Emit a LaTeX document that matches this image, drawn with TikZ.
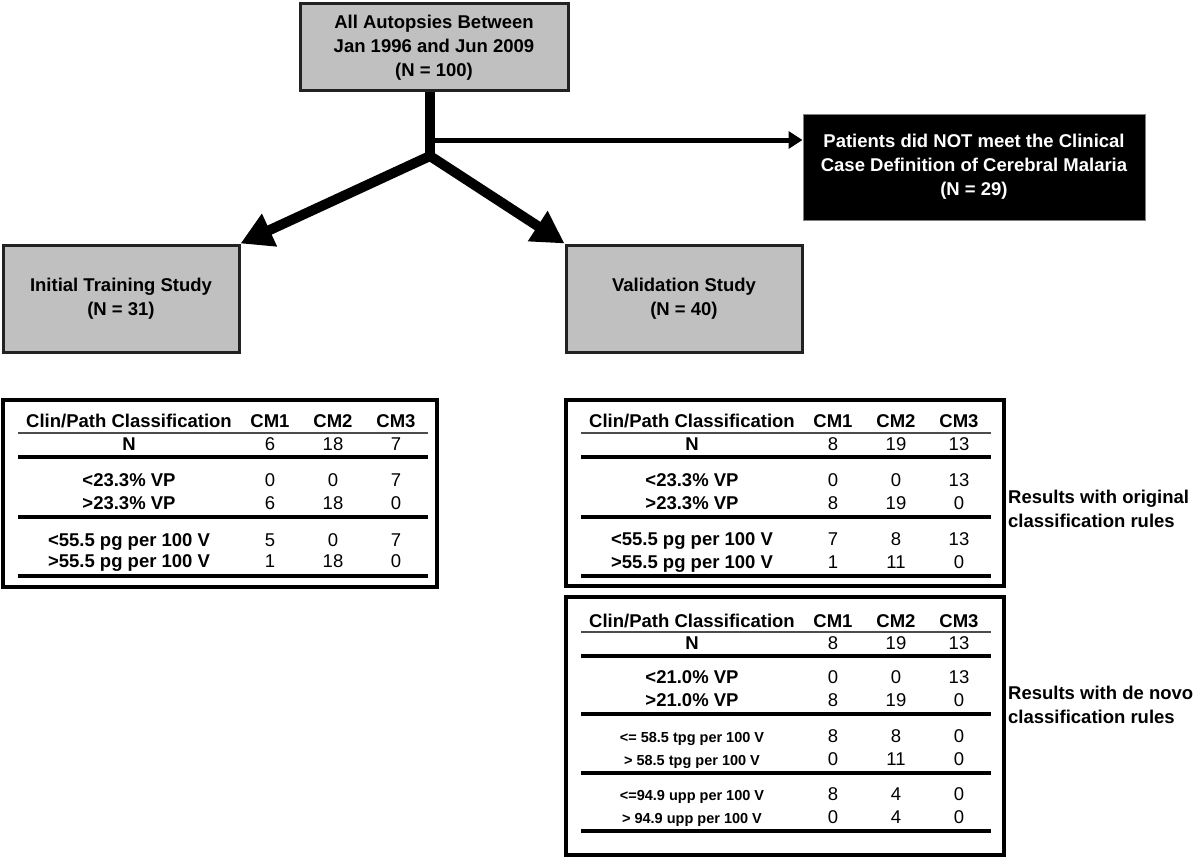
\documentclass[tikz,border=0pt]{standalone}
\usepackage{fontspec}
\setmainfont{Liberation Sans}
\usetikzlibrary{arrows.meta}
\definecolor{boxgray}{HTML}{C0C0C0}
\definecolor{edgegray}{HTML}{222222}
\newcommand\bigfont{\fontsize{18.5}{24}\selectfont}
\newcommand\smallfont{\fontsize{14.5}{18}\selectfont}
% \tabrow{name}{x0}{y}{label}{a}{b}{c}{font for label}{font for numbers}
\newcommand\tabrow[9]{%
  \node[cell,font=#8] (#1-l) at ({#2+127},#3) {#4};
  \node[cell,font=#9] (#1-a) at ({#2+268},#3) {#5};
  \node[cell,font=#9] (#1-b) at ({#2+331},#3) {#6};
  \node[cell,font=#9] (#1-c) at ({#2+394},#3) {#7};}
\newcommand\smallrow[6]{%
  \node[smallcell] (#1-l) at ({#2+127},#3) {#4};
  \node[cell,font=\bigfont] (#1-a) at ({#2+268},#3) {#5};
  \node[cell,font=\bigfont] (#1-b) at ({#2+331},#3) {#6};}
\begin{document}
\begin{tikzpicture}[x=1pt,y=-1pt,
  flowbox/.style={draw=edgegray, line width=3pt, fill=boxgray, inner sep=0pt,
    font=\bigfont\bfseries, align=center},
  darkbox/.style={draw=gray, line width=1pt, fill=black, text=white, inner sep=0pt,
    font=\bigfont\bfseries, align=center},
  tablebox/.style={draw=black, line width=4pt, fill=none, inner sep=0pt},
  cell/.style={inner sep=0pt, text height=13.2pt, text depth=0pt, anchor=center},
  smallcell/.style={inner sep=0pt, text height=10.4pt, text depth=0pt, anchor=center,
    font=\smallfont\bfseries},
  thinrule/.style={draw=black!70, line width=1.5pt},
  thickrule/.style={draw=black, line width=3.5pt},
  sidelabel/.style={inner sep=0pt, anchor=west, align=left, font=\bigfont\bfseries},
  fatarrow/.style={line width=10pt, line join=miter,
    {Triangle[length=32pt,width=34pt]}-{Triangle[length=32pt,width=34pt]}},
  thinarrow/.style={line width=5pt, -{Triangle[length=14pt,width=17pt]}}
]
\useasboundingbox (0,0) rectangle (1200,859);

% flow boxes
\node[flowbox, minimum width=268pt, minimum height=87pt] (top) at (434,47.5)
  {All Autopsies Between\\Jan 1996 and Jun 2009\\(N = 100)};
\node[darkbox, minimum width=342pt, minimum height=106pt] (pat) at (974,167)
  {Patients did NOT meet the Clinical\\Case Definition of Cerebral Malaria\\(N = 29)};
\node[flowbox, minimum width=236pt, minimum height=107pt] (init) at (121,298.5)
  {Initial Training Study\\(N = 31)};
\node[flowbox, minimum width=236pt, minimum height=107pt] (val) at (684,298.5)
  {Validation Study\\(N = 40)};

% connectors
\coordinate (stemjoin) at (430,156);
\coordinate (branch) at (430,140);
\draw[line width=10pt] (top.south -| stemjoin) -- (stemjoin);
\draw[thinarrow] (branch) -- (branch -| pat.west);
\draw[fatarrow] (init.north east) -- (stemjoin) -- (val.north west);

% table 1
\node[tablebox, minimum width=434pt, minimum height=187pt] (t1) at (220,493.5) {};
\tabrow{t1h}{2}{421}{Clin/Path Classification}{CM1}{CM2}{CM3}{\bigfont\bfseries}{\bigfont\bfseries}
\draw[thinrule] (18,433) -- (428,433);
\tabrow{t1n}{2}{444}{N}{6}{18}{7}{\bigfont\bfseries}{\bigfont}
\draw[thickrule] (18,457) -- (428,457);
\tabrow{t1a}{2}{480}{<23.3\% VP}{0}{0}{7}{\bigfont\bfseries}{\bigfont}
\tabrow{t1b}{2}{503}{>23.3\% VP}{6}{18}{0}{\bigfont\bfseries}{\bigfont}
\draw[thickrule] (18,517) -- (428,517);
\tabrow{t1c}{2}{540}{<55.5 pg per 100 V}{5}{0}{7}{\bigfont\bfseries}{\bigfont}
\tabrow{t1d}{2}{561}{>55.5 pg per 100 V}{1}{18}{0}{\bigfont\bfseries}{\bigfont}
\draw[thickrule] (18,576) -- (428,576);

% table 2
\node[tablebox, minimum width=438pt, minimum height=186pt] (t2) at (785,493) {};
\tabrow{t2h}{565}{421}{Clin/Path Classification}{CM1}{CM2}{CM3}{\bigfont\bfseries}{\bigfont\bfseries}
\draw[thinrule] (581,433) -- (991,433);
\tabrow{t2n}{565}{444}{N}{8}{19}{13}{\bigfont\bfseries}{\bigfont}
\draw[thickrule] (581,457) -- (991,457);
\tabrow{t2a}{565}{480}{<23.3\% VP}{0}{0}{13}{\bigfont\bfseries}{\bigfont}
\tabrow{t2b}{565}{503}{>23.3\% VP}{8}{19}{0}{\bigfont\bfseries}{\bigfont}
\draw[thickrule] (581,517) -- (991,517);
\tabrow{t2c}{565}{539}{<55.5 pg per 100 V}{7}{8}{13}{\bigfont\bfseries}{\bigfont}
\tabrow{t2d}{565}{562}{>55.5 pg per 100 V}{1}{11}{0}{\bigfont\bfseries}{\bigfont}
\draw[thickrule] (581,576) -- (991,576);
\node[sidelabel] (lab1) at (1008,509) {Results with original\\classification rules};

% table 3
\node[tablebox, minimum width=438pt, minimum height=258pt] (t3) at (785,726) {};
\tabrow{t3h}{565}{621}{Clin/Path Classification}{CM1}{CM2}{CM3}{\bigfont\bfseries}{\bigfont\bfseries}
\draw[thinrule] (581,632) -- (991,632);
\tabrow{t3n}{565}{643}{N}{8}{19}{13}{\bigfont\bfseries}{\bigfont}
\draw[thickrule] (581,656) -- (991,656);
\tabrow{t3a}{565}{677}{<21.0\% VP}{0}{0}{13}{\bigfont\bfseries}{\bigfont}
\tabrow{t3b}{565}{700}{>21.0\% VP}{8}{19}{0}{\bigfont\bfseries}{\bigfont}
\draw[thickrule] (581,714) -- (991,714);
\tabrow{t3c}{565}{736}{\smallfont\bfseries <= 58.5 tpg per 100 V}{8}{8}{0}{\smallfont\bfseries}{\bigfont}
\tabrow{t3d}{565}{759}{\smallfont\bfseries > 58.5 tpg per 100 V}{0}{11}{0}{\smallfont\bfseries}{\bigfont}
\draw[thickrule] (581,773) -- (991,773);
\tabrow{t3e}{565}{794}{\smallfont\bfseries <=94.9 upp per 100 V}{8}{4}{0}{\smallfont\bfseries}{\bigfont}
\tabrow{t3f}{565}{817}{\smallfont\bfseries > 94.9 upp per 100 V}{0}{4}{0}{\smallfont\bfseries}{\bigfont}
\draw[thickrule] (581,831) -- (991,831);
\node[sidelabel] (lab2) at (1008,705) {Results with de novo\\classification rules};
\end{tikzpicture}
\end{document}
